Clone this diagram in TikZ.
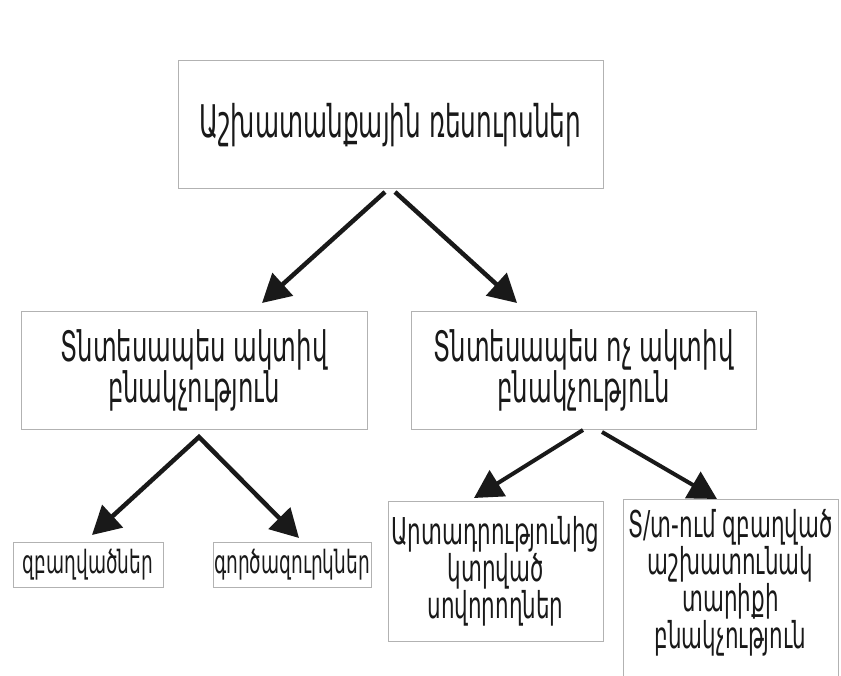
\documentclass[tikz,border=0pt]{standalone}
\usepackage{fontspec}
\newfontfamily\armtop[Script=Armenian,FakeStretch=0.55]{DejaVu Sans}
\newfontfamily\armfont[Script=Armenian,FakeStretch=0.58]{DejaVu Sans}
\usetikzlibrary{arrows.meta}
\tikzset{
  box/.style={draw=black!30, line width=1pt, inner sep=0pt, align=center, text=black!90, font=\armfont},
  bigarrow/.style={line width=4.5pt, draw=black!90, -{Triangle[length=28pt,width=30pt]}},
}
\begin{document}
\begin{tikzpicture}[x=1pt,y=-1pt]
\useasboundingbox[fill=white] (0,0) rectangle (841,676);
\node[box, minimum width=425pt, minimum height=128pt, font=\armtop\fontsize{45}{48}\selectfont] (top) at (390.5,125) {Աշխատանքային ռեսուրսներ};
\node[box, minimum width=346pt, minimum height=117pt, font=\armfont\fontsize{42}{37}\selectfont] (act) at (194,370.5) {Տնտեսապես ակտիվ\\բնակչություն};
\node[box, minimum width=345pt, minimum height=118pt, font=\armfont\fontsize{42}{37}\selectfont] (inact) at (583.5,370.5) {Տնտեսապես ոչ ակտիվ\\բնակչություն};
\node[box, minimum width=150pt, minimum height=45pt, font=\armfont\fontsize{32}{34}\selectfont] (emp) at (88,564.5) {զբաղվածներ};
\node[box, minimum width=158pt, minimum height=45pt, font=\armfont\fontsize{32}{34}\selectfont] (unemp) at (292,564.5) {գործազուրկներ};
\node[box, minimum width=215pt, minimum height=140pt, font=\armfont\fontsize{37}{37}\selectfont] (stud) at (495.5,571) {Արտադրությունից\\կտրված\\սովորողներ};
\begin{scope}
\clip (0,0) rectangle (841,676);
\node[box, minimum width=215pt, minimum height=200pt, anchor=north] (home) at (730.5,499) {};
\end{scope}
\node[anchor=north, inner sep=0pt, align=center, text=black!90, font=\armfont\fontsize{37}{37}\selectfont] (hometext) at (home.north) [yshift=-10pt] {Տ/տ-ում զբաղված\\աշխատունակ\\տարիքի\\բնակչություն};
\coordinate (a1s) at (385,192);
\coordinate (a1e) at (262,303);
\coordinate (a2s) at (395,192);
\coordinate (a2e) at (517,303);
\coordinate (b1e) at (92,535);
\coordinate (bap) at (199,437);
\coordinate (b2e) at (299,538);
\coordinate (c1s) at (583,430);
\coordinate (c1e) at (474,498);
\coordinate (c2s) at (602,432);
\coordinate (c2e) at (717,499);
\draw[bigarrow] (a1s) -- (a1e);
\draw[bigarrow] (a2s) -- (a2e);
\draw[bigarrow, line join=miter, {Triangle[length=28pt,width=30pt]}-{Triangle[length=28pt,width=30pt]}] (b1e) -- (bap) -- (b2e);
\draw[bigarrow, line width=4pt] (c1s) -- (c1e);
\draw[bigarrow, line width=4pt] (c2s) -- (c2e);
\end{tikzpicture}
\end{document}
